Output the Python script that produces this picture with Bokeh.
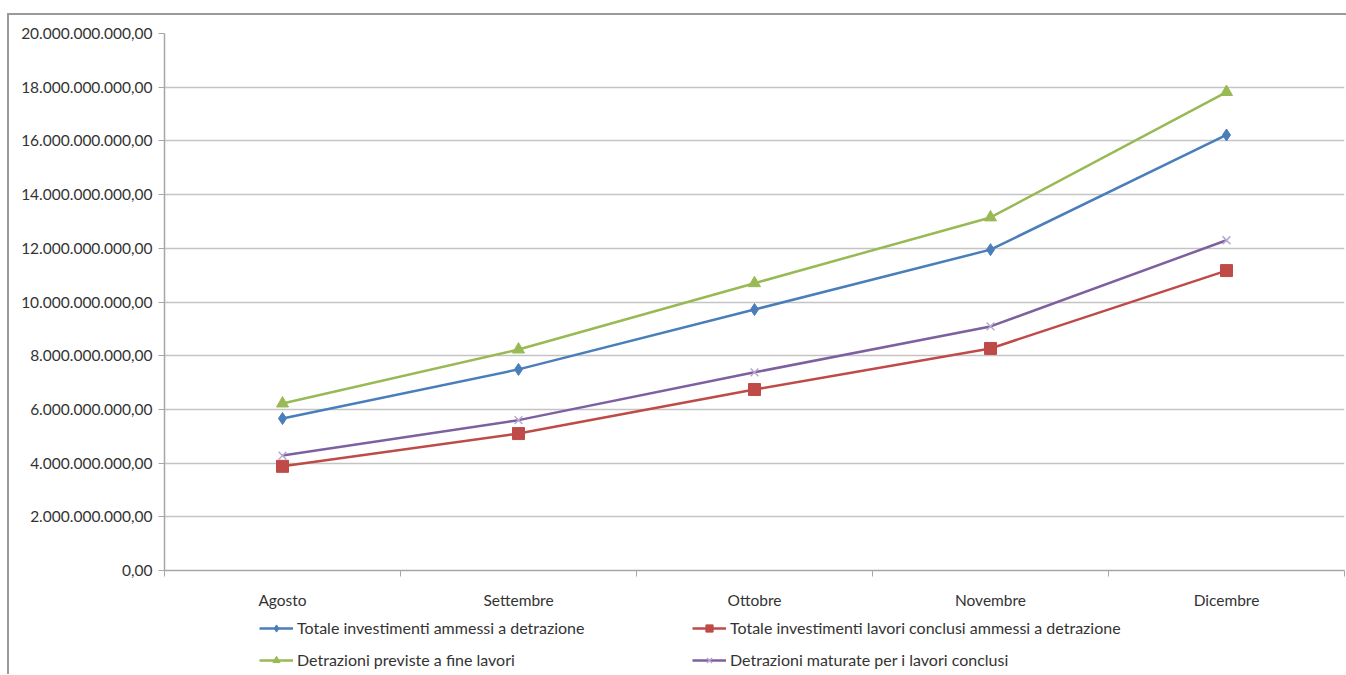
from bokeh.plotting import figure
from bokeh.layouts import column
from bokeh.models import FixedTicker, Legend, LegendItem, ColumnDataSource
from bokeh.embed import file_html
from bokeh.resources import INLINE

months = ["Agosto", "Settembre", "Ottobre", "Novembre", "Dicembre"]
totale_investimenti = [5.66e9, 7.49e9, 9.72e9, 11.95e9, 16.22e9]
totale_conclusi = [3.88e9, 5.10e9, 6.74e9, 8.27e9, 11.17e9]
detrazioni_previste = [6.22e9, 8.23e9, 10.70e9, 13.15e9, 17.82e9]
detrazioni_maturate = [4.28e9, 5.60e9, 7.38e9, 9.09e9, 12.30e9]

series_names = [
    "Totale investimenti ammessi a detrazione",
    "Totale investimenti lavori conclusi ammessi a detrazione",
    "Detrazioni previste a fine lavori",
    "Detrazioni maturate per i lavori conclusi",
]
y_ticks = [0, 2e9, 4e9, 6e9, 8e9, 10e9, 12e9, 14e9, 16e9, 18e9, 20e9]
y_tick_labels = ["0,00", "2.000.000.000,00", "4.000.000.000,00", "6.000.000.000,00",
                 "8.000.000.000,00", "10.000.000.000,00", "12.000.000.000,00",
                 "14.000.000.000,00", "16.000.000.000,00", "18.000.000.000,00",
                 "20.000.000.000,00"]

xs = list(range(len(months)))
FONT = "Lato"
TXT = "#333333"

p = figure(frame_width=1180, frame_height=537, x_range=(-0.5, 4.5), y_range=(0, 20e9),
           output_backend="svg", toolbar_location=None,
           min_border_left=155, min_border_top=18, min_border_right=4, min_border_bottom=42)
p.outline_line_color = None
p.background_fill_color = "white"
p.border_fill_color = "white"

p.yaxis.ticker = FixedTicker(ticks=y_ticks)
p.yaxis.major_label_overrides = {t: l for t, l in zip(y_ticks, y_tick_labels)}
p.yaxis.minor_tick_line_color = None
p.yaxis.major_tick_out = 6
p.yaxis.major_tick_in = 0
p.yaxis.axis_line_color = "#a6a6a6"
p.yaxis.major_tick_line_color = "#a6a6a6"
p.yaxis.axis_line_width = 1.5
p.yaxis.major_label_standoff = 6

p.xaxis.ticker = FixedTicker(ticks=xs, minor_ticks=[-0.5, 0.5, 1.5, 2.5, 3.5, 4.5])
p.xaxis.major_label_overrides = {i: m for i, m in zip(xs, months)}
p.xaxis.major_tick_line_color = None
p.xaxis.minor_tick_out = 6
p.xaxis.minor_tick_in = 0
p.xaxis.minor_tick_line_color = "#a6a6a6"
p.xaxis.axis_line_color = "#a6a6a6"
p.xaxis.axis_line_width = 1.5
p.xaxis.major_label_standoff = 14

for ax in (p.xaxis, p.yaxis):
    ax.major_label_text_font = FONT
    ax.major_label_text_font_size = "15.5px"
    ax.major_label_text_color = TXT

p.xgrid.grid_line_color = None
p.ygrid.grid_line_color = "#c4c4c4"
p.ygrid.grid_line_width = 1.5

colors = ["#4a7ebb", "#be4b48", "#98b954", "#7d60a0"]
data = [totale_investimenti, totale_conclusi, detrazioni_previste, detrazioni_maturate]
markers = ["diamond", "square", "triangle", "x"]
msizes = [12, 12, 12, 11]

# separate strip holding the legend below the chart (its ranges keep the data out of view)
lf = figure(width=1339, height=62, x_range=(-10, -9), y_range=(-10, -9),
            x_axis_type=None, y_axis_type=None, output_backend="svg",
            toolbar_location=None, min_border=0)
lf.outline_line_color = None
lf.grid.grid_line_color = None
lf.border_fill_color = "white"

items = {}
for name, vals, c, m, s in zip(series_names, data, colors, markers, msizes):
    src = ColumnDataSource(dict(x=xs, y=vals))
    p.line("x", "y", source=src, line_color=c, line_width=2.5)
    p.scatter("x", "y", source=src, marker=m, size=s, fill_color=c,
              line_color=c if m != "x" else "#b8a8d0", line_width=1.5 if m == "x" else 1)
    ln = lf.line("x", "y", source=src, line_color=c, line_width=2.5)
    sc = lf.scatter("x", "y", source=src, marker=m, size=s - 2, fill_color=c,
                    line_color=c if m != "x" else "#b8a8d0", line_width=1.5 if m == "x" else 1)
    items[name] = LegendItem(label=name, renderers=[ln, sc])

# column-major fill: column 1 = series 0, 2; column 2 = series 1, 3
order = [series_names[0], series_names[2], series_names[1], series_names[3]]
legend = Legend(items=[items[n] for n in order], ncols=2, orientation="vertical")
legend.border_line_color = None
legend.background_fill_alpha = 0
legend.label_text_font = FONT
legend.label_text_font_size = "16px"
legend.label_text_color = TXT
legend.glyph_width = 34
legend.glyph_height = 18
legend.label_height = 18
legend.label_standoff = 4
legend.label_width = 382
legend.spacing = 13
legend.padding = 0
legend.margin = 0
legend.location = (95, 5)
lf.add_layout(legend, "center")

layout = column(p, lf, spacing=0, margin=(13, 0, 0, 7),
                styles={"border-left": "2px solid #9a9a9a", "border-top": "2px solid #9a9a9a"})

open("out.html", "w").write(file_html(layout, INLINE))
